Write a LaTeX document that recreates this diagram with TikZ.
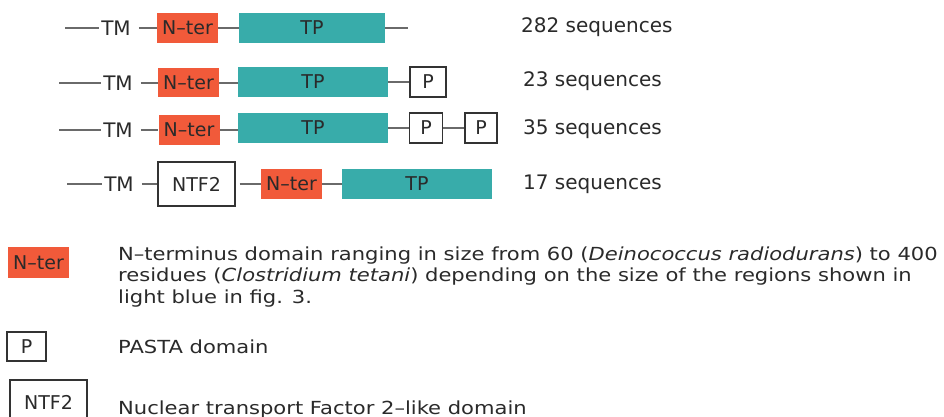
\documentclass[tikz,border=0pt]{standalone}
\usepackage{fontspec}
\setmainfont{DejaVu Sans}
\newfontfamily\legfont[FakeStretch=1.17]{DejaVu Sans}
\definecolor{nter}{HTML}{F15A3A}
\definecolor{tp}{HTML}{38ACAA}
\definecolor{ln}{HTML}{6A6A6A}
\definecolor{txt}{HTML}{2A2A2A}
\begin{document}
\begin{tikzpicture}[x=1pt,y=-1pt,
 lab/.style={font=\fontsize{20}{24}\selectfont, text=txt, inner sep=0pt},
 tmlab/.style={lab, inner xsep=2pt},
 dom/.style={rectangle, inner sep=0pt, text=txt, font=\fontsize{19}{22}\selectfont},
 nterbox/.style={dom, fill=nter, minimum width=61pt, minimum height=30pt},
 tpbox/.style={dom, fill=tp, minimum width=150pt, minimum height=30pt},
 pbox/.style={dom, draw=black!80, line width=1.3pt, fill=white, minimum width=35pt, minimum height=29pt},
 ntfbox/.style={dom, draw=black!80, line width=1.3pt, fill=white, minimum width=77pt, minimum height=44pt},
 link/.style={draw=ln, line width=1.8pt},
 seq/.style={lab, anchor=base west},
 legtext/.style={anchor=base west, inner sep=0pt, font=\legfont\fontsize{18}{22}\selectfont, text=txt}]
\useasboundingbox[fill=white] (0,0) rectangle (944,417);

% Row 1
\coordinate (s1) at (65,28);
\node[tmlab] (tm1) at (116,28) {TM};
\node[nterbox] (n1) at (187.5,28) {N–ter};
\node[tpbox, minimum width=146pt] (t1) at (312,28) {TP};
\coordinate (e1) at (408,28);
\draw[link] (s1) -- (tm1.west);
\draw[link, shorten <=6pt] (tm1.east) -- (n1.west);
\draw[link] (n1.east) -- (t1.west);
\draw[link] (t1.east) -- (e1);
\node[seq] (q1) at (521,33) {282 sequences};

% Row 2
\coordinate (s2) at (59,83);
\node[tmlab] (tm2) at (118,83) {TM};
\node[nterbox, minimum height=29pt] (n2) at (188.5,83) {N–ter};
\node[tpbox] (t2) at (313,82) {TP};
\node[pbox, minimum width=36pt, minimum height=30pt] (p2) at (428,82) {P};
\draw[link] (s2) -- (tm2.west);
\draw[link, shorten <=6pt] (tm2.east) -- (n2.west);
\draw[link] (n2.east) -- (t2.west |- n2.east);
\draw[link] (t2.east) -- (p2.west);
\node[seq] (q2) at (523,87) {23 sequences};

% Row 3
\coordinate (s3) at (59,130);
\node[tmlab] (tm3) at (118,130) {TM};
\node[nterbox] (n3) at (189,130) {N–ter};
\node[tpbox] (t3) at (313,128) {TP};
\node[pbox, minimum width=33pt, minimum height=30pt] (p3a) at (426,128) {P};
\node[pbox, minimum width=32pt, minimum height=30pt] (p3b) at (481,128) {P};
\draw[link] (s3) -- (tm3.west);
\draw[link, shorten <=6pt] (tm3.east) -- (n3.west);
\draw[link] (n3.east) -- (t3.west |- n3.east);
\draw[link] (t3.east) -- (p3a.west);
\draw[link] (p3a.east) -- (p3b.west);
\node[seq] (q3) at (523,134) {35 sequences};

% Row 4
\coordinate (s4) at (67,184);
\node[tmlab] (tm4) at (119,184) {TM};
\node[ntfbox] (f4) at (196.5,184) {NTF2};
\node[nterbox] (n4) at (291.5,184) {N–ter};
\node[tpbox] (t4) at (417,184) {TP};
\draw[link] (s4) -- (tm4.west);
\draw[link, shorten <=6pt] (tm4.east) -- (f4.west);
\draw[link, shorten <=4pt] (f4.east) -- (n4.west);
\draw[link] (n4.east) -- (t4.west);
\node[seq] (q4) at (523,189) {17 sequences};

% Legend
\node[nterbox, minimum height=31pt] (ln) at (38.5,262.5) {N–ter};
\node[legtext] (l1) at (118,260) {N–terminus domain ranging in size from 60 (\textit{Deinococcus radiodurans}) to 400};
\node[legtext] (l2) at (118,281.5) {residues (\textit{Clostridium tetani}) depending on the size of the regions shown in};
\node[legtext] (l3) at (118,303) {light blue in fig. 3.};
\node[pbox, minimum width=39pt] (pl) at (26.5,346.5) {P};
\node[legtext] (l4) at (118,353) {PASTA domain};
\node[ntfbox] (nl) at (48.5,402) {NTF2};
\node[legtext] (l5) at (118,414) {Nuclear transport Factor 2–like domain};
\end{tikzpicture}
\end{document}
